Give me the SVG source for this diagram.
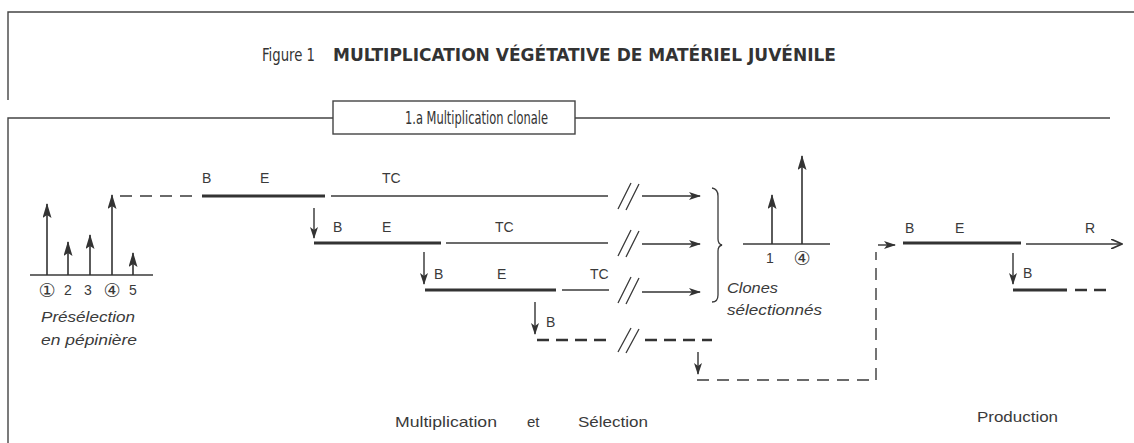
<svg xmlns="http://www.w3.org/2000/svg" width="1134" height="443" viewBox="0 0 1134 443">
<style>
.t{font-family:"Liberation Sans",Arial,sans-serif;fill:#3a3a3a}
.s{font-size:14px}
.it{font-style:italic}
.circ{font-family:"DejaVu Sans",sans-serif;font-size:19px}
.thin{stroke:#3a3a3a;stroke-width:1.3;fill:none}
.thick{stroke:#333;stroke-width:3;fill:none}
.frame{stroke:#444;stroke-width:1.4;fill:none}
.dash{stroke:#3a3a3a;stroke-width:1.4;fill:none;stroke-dasharray:12 8}
.dashT{stroke:#333;stroke-width:2.6;fill:none;stroke-dasharray:12 7}
.cond{font-family:"Liberation Sans Narrow","DejaVu Sans Condensed","Liberation Sans",sans-serif;fill:#333}
</style>
<defs>
<marker id="ah" viewBox="0 0 12 8" refX="11" refY="4" markerWidth="12" markerHeight="8" markerUnits="userSpaceOnUse" orient="auto">
<path d="M0,0 L12,4 L0,8 L3,4 Z" fill="#333"/>
</marker>
<marker id="ahL" viewBox="0 0 15 9" refX="14" refY="4.5" markerWidth="15" markerHeight="9" markerUnits="userSpaceOnUse" orient="auto">
<path d="M0,0 L15,4.5 L0,9 L3,4.5 Z" fill="#333"/>
</marker>
<marker id="ahO" viewBox="0 0 12 10" refX="11" refY="5" markerWidth="12" markerHeight="10" markerUnits="userSpaceOnUse" orient="auto">
<path d="M0,0 L11,5 L0,10" fill="none" stroke="#333" stroke-width="1.6"/>
</marker>
</defs>
<rect width="1134" height="443" fill="#fff"/>

<g id="frame">
<path class="frame" d="M8,100 V12 H1134"/>
<path class="frame" d="M8,443 V118 H333 M575,118 H1110"/>
<rect x="333" y="101" width="242" height="33" class="frame"/>
<text class="cond" x="405" y="124" font-size="18" textLength="143" lengthAdjust="spacingAndGlyphs">1.a Multiplication clonale</text>
</g>

<g id="title">
<text class="cond" x="262" y="61" font-size="18" textLength="53" lengthAdjust="spacingAndGlyphs">Figure 1</text>
<text class="cond" x="333" y="61" font-size="17" font-weight="bold" textLength="503" lengthAdjust="spacingAndGlyphs">MULTIPLICATION VÉGÉTATIVE DE MATÉRIEL JUVÉNILE</text>
</g>

<g id="preselection">
<line class="thin" x1="30" y1="275" x2="153" y2="275"/>
<g stroke="#333" stroke-width="1.6" marker-end="url(#ahL)">
<line x1="47" y1="275" x2="47" y2="204"/>
<line x1="68" y1="275" x2="68" y2="242"/>
<line x1="90" y1="275" x2="90" y2="235"/>
<line x1="112" y1="275" x2="112" y2="195"/>
<line x1="133" y1="275" x2="133" y2="253"/>
</g>
<g class="t s" text-anchor="middle">
<text x="47" y="297" class="t circ">①</text>
<text x="68" y="295">2</text>
<text x="88" y="295">3</text>
<text x="112" y="297" class="t circ">④</text>
<text x="133" y="295">5</text>
</g>
<text class="t s it" x="41" y="322" textLength="94" lengthAdjust="spacingAndGlyphs">Présélection</text>
<text class="t s it" x="41" y="345" textLength="96" lengthAdjust="spacingAndGlyphs">en pépinière</text>
</g>

<g id="row1">
<line class="thick" x1="202" y1="196" x2="325" y2="196"/>
<line class="thin" x1="331" y1="196" x2="608" y2="196"/>
<text class="t s" x="202" y="183">B</text>
<text class="t s" x="260" y="183">E</text>
<text class="t s" x="382" y="183">TC</text>
</g>

<g id="row2">
<line class="thick" x1="314" y1="243" x2="441" y2="243"/>
<line class="thin" x1="446" y1="243" x2="608" y2="243"/>
<text class="t s" x="333" y="232">B</text>
<text class="t s" x="382" y="232">E</text>
<text class="t s" x="495" y="232">TC</text>
</g>

<g id="row3">
<line class="thick" x1="425" y1="290" x2="556" y2="290"/>
<line class="thin" x1="562" y1="290" x2="609" y2="290"/>
<text class="t s" x="434" y="279">B</text>
<text class="t s" x="497" y="279">E</text>
<text class="t s" x="590" y="279">TC</text>
</g>

<g id="row4">
<text class="t s" x="546" y="327">B</text>
</g>

<g id="clones">
<path class="thin" stroke-width="1.6" d="M712,188 Q718,189 718,196 V239 Q718,244 722,245 Q718,246 718,251 V295 Q718,302 712,302"/>
<line class="thin" x1="743" y1="244" x2="830" y2="244"/>
<g stroke="#333" stroke-width="1.6" marker-end="url(#ahL)">
<line x1="772" y1="244" x2="772" y2="195"/>
<line x1="802" y1="244" x2="802" y2="156"/>
</g>
<text class="t s" x="770" y="263" text-anchor="middle">1</text>
<text class="t circ" x="802" y="265" text-anchor="middle">④</text>
<text class="t s it" x="727" y="293" textLength="51" lengthAdjust="spacingAndGlyphs">Clones</text>
<text class="t s it" x="727" y="315" textLength="95" lengthAdjust="spacingAndGlyphs">sélectionnés</text>
</g>

<g id="production">
<line class="thick" x1="903" y1="243" x2="1021" y2="243"/>
<line class="thin" x1="1026" y1="244" x2="1122" y2="244" marker-end="url(#ahO)"/>
<text class="t s" x="905" y="233">B</text>
<text class="t s" x="955" y="233">E</text>
<text class="t s" x="1085" y="233">R</text>
<text class="t s" x="1023" y="278">B</text>
<line class="thick" x1="1013" y1="290" x2="1067" y2="290"/>
<path class="dashT" d="M1075,290 H1113" stroke-dasharray="13 9"/>
</g>

<g id="connectors">
<line class="dash" x1="120" y1="196" x2="200" y2="196"/>
<g class="thin" stroke-width="1.2">
<path d="M618,209 L631,183 M626,210 L639,184"/>
<path d="M618,256 L631,230 M626,257 L639,231"/>
<path d="M618,303 L631,277 M626,304 L639,278"/>
<path d="M618,352 L631,328 M626,353 L639,329"/>
</g>
<g stroke="#333" stroke-width="1.4" marker-end="url(#ah)">
<line x1="642" y1="196" x2="700" y2="196"/>
<line x1="642" y1="244" x2="700" y2="244"/>
<line x1="642" y1="292" x2="700" y2="292"/>
<line x1="314" y1="208" x2="314" y2="238"/>
<line x1="424" y1="252" x2="424" y2="284"/>
<line x1="535" y1="302" x2="535" y2="334"/>
<line x1="698" y1="352" x2="698" y2="374"/>
<line x1="1013" y1="253" x2="1013" y2="284"/>
<line x1="878" y1="245" x2="895" y2="245"/>
</g>
<path class="dashT" d="M537,340 H612"/>
<path class="dashT" d="M645,340 H712" stroke-dasharray="10 9"/>
<path class="dash" stroke-width="1.8" d="M697,380 H876"/>
<path class="dash" d="M876,380 V252"/>
</g>

<g id="phases">
<text class="t" x="395" y="427" font-size="15" textLength="102" lengthAdjust="spacingAndGlyphs">Multiplication</text>
<text class="t" x="527" y="427" font-size="15">et</text>
<text class="t" x="578" y="427" font-size="15" textLength="70" lengthAdjust="spacingAndGlyphs">Sélection</text>
<text class="t" x="977" y="422" font-size="15" textLength="81" lengthAdjust="spacingAndGlyphs">Production</text>
</g>
</svg>
